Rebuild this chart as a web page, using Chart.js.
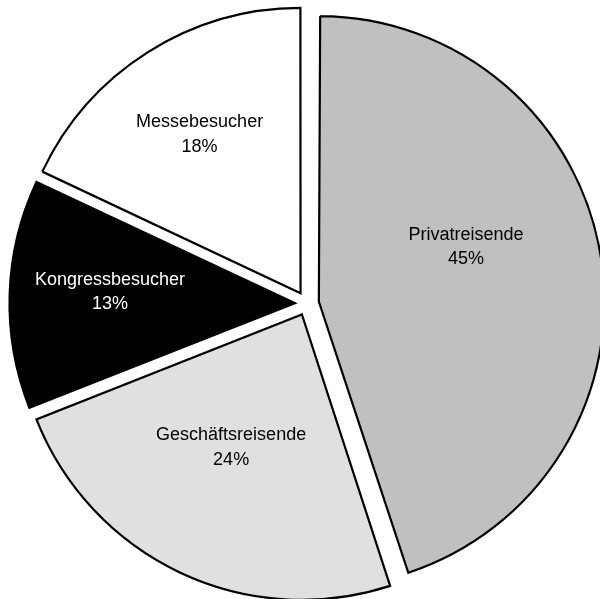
<!DOCTYPE html>
<html>
<head>
<meta charset="utf-8">
<script src="https://cdn.jsdelivr.net/npm/chart.js@4"></script>
<style>
  html, body { margin: 0; padding: 0; background: #fff; }
</style>
</head>
<body>
<canvas id="grafico" width="600" height="599"></canvas>
<script>
// datos
const kategorien = ['Privatreisende', 'Geschäftsreisende', 'Kongressbesucher', 'Messebesucher'];
const anteile = [45, 24, 13, 18];
const farben = ['#c0c0c0', '#e0e0e0', '#000000', '#ffffff'];
const textFarben = ['#000000', '#000000', '#ffffff', '#000000'];

// wo die Beschriftung im Segment sitzt (Anteil vom Radius, Winkelversatz in Grad)
const labelRadius = [0.55, 0.528, 0.649, 0.66];
const labelWinkel = [-11.4, 2.8, 1.6, 0];

const OFFSET = 48;

// Chart.js vergrößert schmale/breite Segmente mit offset, das hier zurücknehmen
const radiusFix = {
  id: 'radiusFix',
  afterDatasetsUpdate(chart) {
    chart.getDatasetMeta(0).data.forEach(arc => {
      const fix = 1 - Math.sin(Math.min(Math.PI, arc.circumference || 0));
      arc.outerRadius -= (OFFSET / 4) * fix;
    });
  }
};

const beschriftung = {
  id: 'beschriftung',
  afterDatasetsDraw(chart) {
    const ctx = chart.ctx;
    const R = chart.options.radius;
    chart.getDatasetMeta(0).data.forEach((arc, i) => {
      const mitte = (arc.startAngle + arc.endAngle) / 2;
      const ox = arc.x + Math.cos(mitte) * OFFSET / 4;
      const oy = arc.y + Math.sin(mitte) * OFFSET / 4;
      const w = mitte + labelWinkel[i] * Math.PI / 180;
      const x = ox + Math.cos(w) * R * labelRadius[i];
      const y = oy + Math.sin(w) * R * labelRadius[i];
      ctx.save();
      ctx.font = '18px "Liberation Sans", Arial, sans-serif';
      ctx.fillStyle = textFarben[i];
      ctx.textAlign = 'center';
      ctx.textBaseline = 'middle';
      ctx.fillText(kategorien[i], x, y - 12.3);
      ctx.fillText(anteile[i] + '%', x, y + 12.3);
      ctx.restore();
    });
  }
};

const ctx = document.getElementById('grafico').getContext('2d');
const grafico = new Chart(ctx, {
  type: 'pie',
  data: {
    labels: kategorien,
    datasets: [{
      data: anteile,
      backgroundColor: farben,
      borderColor: '#000000',
      borderWidth: 2.2,
      borderJoinStyle: 'miter',
      offset: OFFSET
    }]
  },
  options: {
    responsive: false,
    devicePixelRatio: 1,
    animation: false,
    radius: 285.5,
    layout: { padding: { left: 14, top: 8, right: 0, bottom: 0 } },
    plugins: {
      legend: { display: false },
      tooltip: { enabled: false }
    }
  },
  plugins: [radiusFix, beschriftung]
});
</script>
</body>
</html>
